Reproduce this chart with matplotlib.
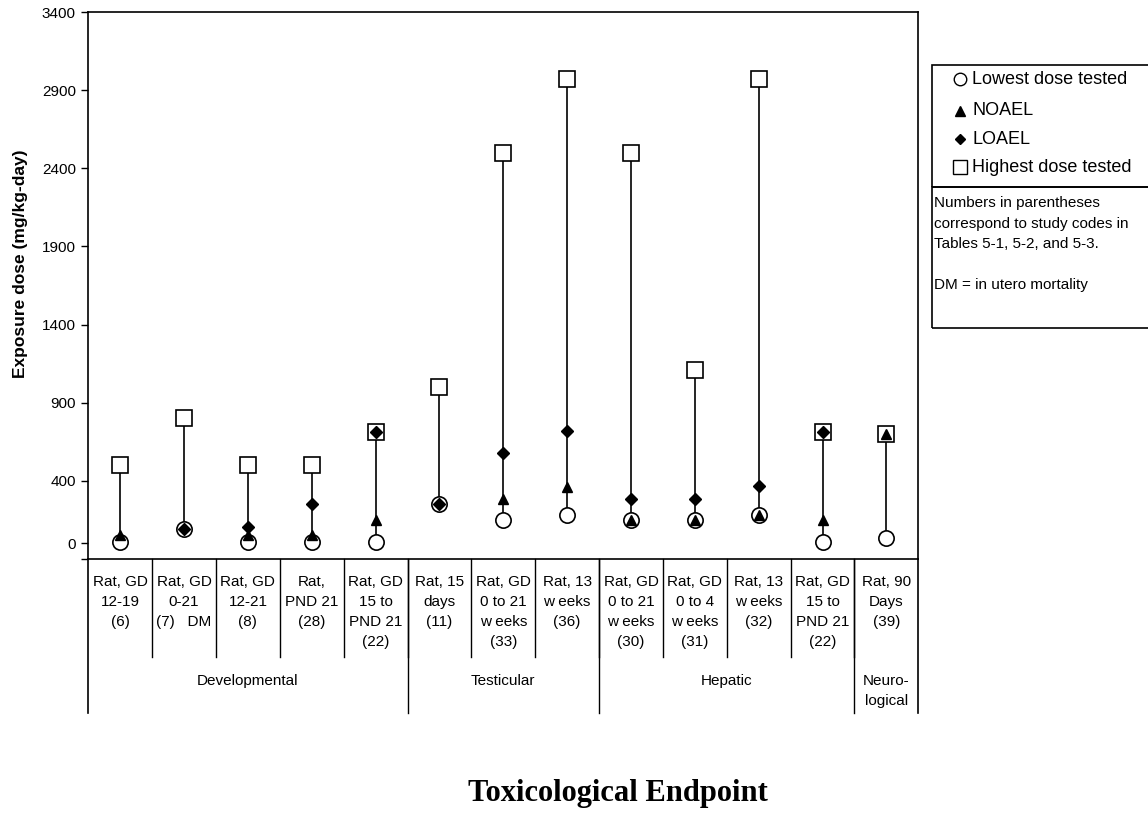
import numpy as np
import matplotlib
matplotlib.use('Agg')
import matplotlib.pyplot as plt
import matplotlib.transforms as mtransforms
from matplotlib.lines import Line2D
from matplotlib.patches import Rectangle

plt.rcParams['font.family'] = ['Liberation Sans', 'DejaVu Sans']

# study labels (one per column)
studies = ['Rat, GD\n12-19\n(6)', 'Rat, GD\n0-21\n(7)   DM', 'Rat, GD\n12-21\n(8)',
           'Rat,\nPND 21\n(28)', 'Rat, GD\n15 to\nPND 21\n(22)', 'Rat, 15\ndays\n(11)',
           'Rat, GD\n0 to 21\nw eeks\n(33)', 'Rat, 13\nw eeks\n(36)',
           'Rat, GD\n0 to 21\nw eeks\n(30)', 'Rat, GD\n0 to 4\nw eeks\n(31)',
           'Rat, 13\nw eeks\n(32)', 'Rat, GD\n15 to\nPND 21\n(22)', 'Rat, 90\nDays\n(39)']
groups = ['Developmental', 'Testicular', 'Hepatic', 'Neuro-\nlogical']
group_sizes = [5, 3, 4, 1]

# doses (mg/kg-day), nan = not reported
lowest = [10, 90, 10, 10, 10, 250, 150, 180, 150, 150, 180, 10, 35]
noael = [50, np.nan, 50, 50, 150, np.nan, 280, 360, 150, 150, 180, 150, 700]
loael = [np.nan, 90, 100, 250, 710, 250, 575, 720, 280, 285, 365, 710, np.nan]
highest = [500, 800, 500, 500, 710, 1000, 2500, 2970, 2500, 1110, 2970, 710, 700]

yticks = [0, 400, 900, 1400, 1900, 2400, 2900, 3400]

W, H = 1148, 814
def fy(y):
    return 1 - y / H

fig = plt.figure(figsize=(W / 100, H / 100), dpi=100)
ax = fig.add_axes([88.3 / W, fy(558.7), (918.3 - 88.3) / W, (558.7 - 12.3) / H])

x = np.arange(1, len(studies) + 1)

# vertical range lines
for xi, lo, hi in zip(x, lowest, highest):
    ax.plot([xi, xi], [lo, hi], color='black', lw=1.2, zorder=1)

ax.plot(x, lowest, 'o', ms=11, mfc='white', mec='black', mew=1.2, ls='none', zorder=2)
ax.plot(x, highest, 's', ms=11, mfc='white', mec='black', mew=1.2, ls='none', zorder=2)
ax.plot(x, noael, '^', ms=7.5, color='black', ls='none', zorder=3)
ax.plot(x, loael, 'D', ms=6, color='black', ls='none', zorder=3)

ax.set_xlim(0.5, len(studies) + 0.5)
ax.set_ylim(-100, 3400)
ax.set_yticks(yticks)
ax.set_yticklabels([str(v) for v in yticks], fontsize=11)
ax.set_yticks([-100], minor=True)
ax.tick_params(axis='y', which='both', direction='out', length=5, width=1, pad=4)
ax.set_xticks([])
for s in ax.spines.values():
    s.set_linewidth(1.2)

# category table under the axes
tr = mtransforms.blended_transform_factory(ax.transData, fig.transFigure)
for i in range(1, len(studies)):
    ax.add_line(Line2D([i + 0.5, i + 0.5], [fy(558.7), fy(657.3)], transform=tr,
                       color='black', lw=1, clip_on=False))
for b in [0.5, len(studies) + 0.5]:
    ax.add_line(Line2D([b, b], [fy(558.7), fy(713)], transform=tr,
                       color='black', lw=1.2, clip_on=False))
pos = 0.5
for g, n in zip(groups, group_sizes):
    if pos > 0.5:
        ax.add_line(Line2D([pos, pos], [fy(558.7), fy(713)], transform=tr,
                           color='black', lw=1, clip_on=False))
    ax.text(pos + n / 2, fy(674), g, transform=tr, ha='center', va='top',
            fontsize=11, linespacing=1.55)
    pos += n

for xi, lab in zip(x, studies):
    ax.text(xi, fy(575), lab, transform=tr, ha='center', va='top',
            fontsize=11, linespacing=1.56)

# axis titles
fig.text(21 / W, fy(264), 'Exposure dose (mg/kg-day)', rotation=90, ha='center',
         va='center', fontsize=12.5, fontweight='bold')
fig.text(618 / W, fy(793), 'Toxicological Endpoint', ha='center', va='center',
         fontsize=22, fontweight='bold', family='Liberation Serif')

# legend boxes
fig.add_artist(Rectangle((932 / W, fy(186.7)), (1150 - 932) / W, (186.7 - 65) / H,
                         transform=fig.transFigure, fill=False, ec='black', lw=1.2))
fig.add_artist(Rectangle((932 / W, fy(328)), (1150 - 932) / W, (328 - 186.7) / H,
                         transform=fig.transFigure, fill=False, ec='black', lw=1.2))
leg = [('o', 9, 'white', 'Lowest dose tested', 79.3),
       ('^', 7, 'black', 'NOAEL', 110.7),
       ('D', 5.5, 'black', 'LOAEL', 139),
       ('s', 9.5, 'white', 'Highest dose tested', 167.3)]
for m, ms, fc, lab, yy in leg:
    fig.add_artist(Line2D([960 / W], [fy(yy)], marker=m, ms=ms, mfc=fc, mec='black',
                          mew=1, ls='none', transform=fig.transFigure))
    fig.text(972 / W, fy(yy), lab, ha='left', va='center', fontsize=13)

note = ['Numbers in parentheses', 'correspond to study codes in',
        'Tables 5-1, 5-2, and 5-3.', '', 'DM = in utero mortality']
for k, line in enumerate(note):
    fig.text(934 / W, fy(203.3 + 20.5 * k), line, ha='left', va='center', fontsize=11)

plt.savefig('out.png', dpi=100)
